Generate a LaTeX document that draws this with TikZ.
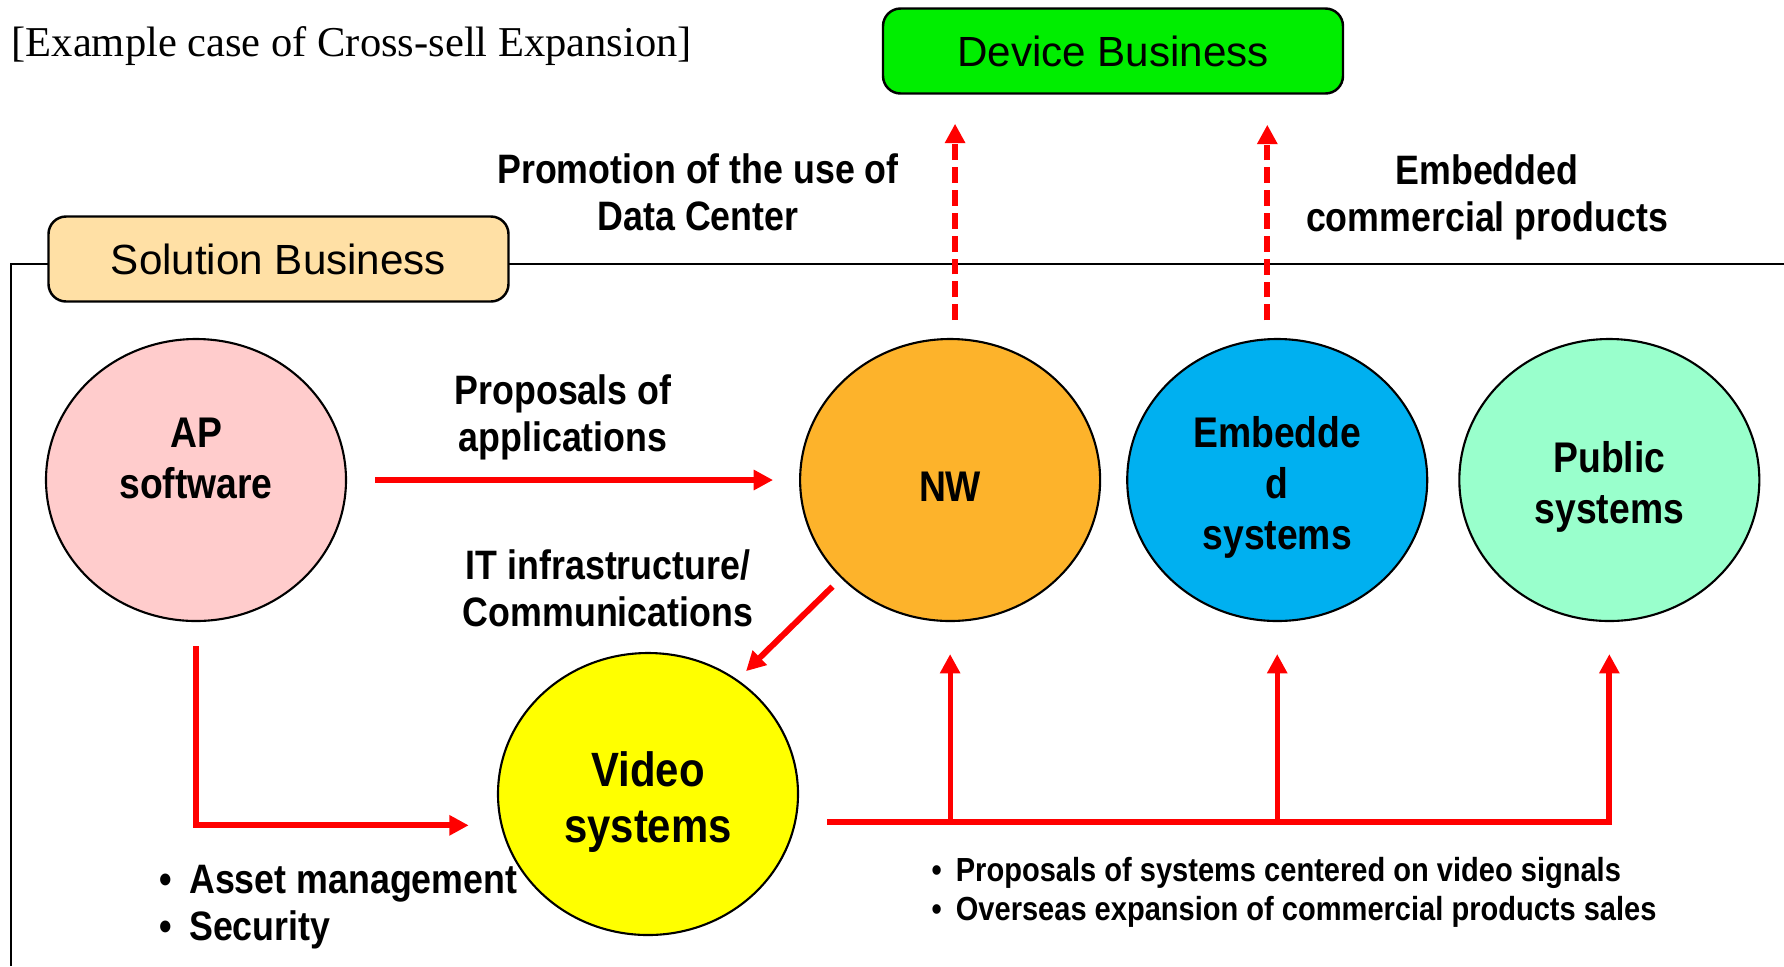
\documentclass[tikz,border=0pt]{standalone}
\usepackage{fontspec}
\setmainfont{Liberation Serif}
\newfontfamily\boxfont{Liberation Sans}
\newfontfamily\lblfont[FakeStretch=0.87]{Liberation Sans}
\usetikzlibrary{shapes.geometric,arrows.meta,positioning}

\definecolor{devgreen}{HTML}{00EE00}
\definecolor{solpeach}{HTML}{FFE0A5}
\definecolor{appink}{HTML}{FFCCCC}
\definecolor{nworange}{HTML}{FDB32B}
\definecolor{embblue}{HTML}{00B0F0}
\definecolor{pubmint}{HTML}{99FFCC}
\definecolor{vidyellow}{HTML}{FFFF00}

\tikzset{
  bizbox/.style={draw, line width=0.7pt, rounded corners=5pt, minimum width=4.6cm,
    minimum height=0.85cm, font=\boxfont\fontsize{12}{14}\selectfont},
  area/.style={ellipse, draw, line width=0.6pt, minimum width=3cm, minimum height=2.82cm,
    inner sep=0pt},
  areatext/.style={align=center, inner sep=0pt, yshift=-0.07cm,
    font=\lblfont\bfseries\fontsize{12.2}{14.5}\selectfont},
  note/.style={align=center, inner sep=0pt, font=\lblfont\bfseries\fontsize{11.7}{13.4}\selectfont},
  flow/.style={draw=red, line width=1.7pt, -{Triangle[length=5.5pt,width=5.5pt]}},
  upflow/.style={flow, line width=1.45pt},
  dashflow/.style={flow, line width=1.8pt, dash pattern=on 4.5pt off 2pt},
}

\begin{document}
\begin{tikzpicture}
    \useasboundingbox (0,0) rectangle (17.84,-9.66);

    % heading
    \node[anchor=west, inner sep=0pt, font=\fontsize{12.1}{14}\selectfont] (title) at (0.11,-0.46)
        {[Example case of Cross-sell Expansion]};

    % solution area frame
    \draw[line width=0.6pt] (0.11,-9.66) |- (17.84,-2.64);

    % businesses
    \node[bizbox, fill=devgreen] (device) at (11.13,-0.51) {Device Business};
    \node[bizbox, fill=solpeach] (solution) at (2.785,-2.59) {Solution Business};

    % areas
    \node[area, fill=appink, label={[areatext, yshift=0.29cm]center:AP\\software}] (ap) at (1.96,-4.80) {};
    \node[area, fill=nworange, right=4.52cm of ap, label={[areatext]center:NW}] (nw) {};
    \node[area, fill=embblue, right=0.25cm of nw, label={[areatext]center:Embedde\\d\\systems}] (emb) {};
    \node[area, fill=pubmint, right=0.30cm of emb, label={[areatext]center:Public\\systems}] (pub) {};
    \node[area, fill=vidyellow, label={[areatext, yshift=-0.01cm, font=\lblfont\bfseries\fontsize{13.7}{15.9}\selectfont]center:Video\\systems}] (video) at (6.48,-7.94) {};

    % arrows inside the solution business
    \draw[flow, shorten <=0.28cm, shorten >=0.26cm] (ap) -- (nw)
        node[midway, above=0.17cm, xshift=-0.1cm, note] (propapp) {Proposals of\\applications};
    \draw[flow, shorten <=0.12cm, shorten >=0.12cm] (nw.222) -- (video.52);
    \node[note] (itcomm) at (6.08,-5.88) {IT infrastructure/\\Communications};
    \draw[flow, shorten <=0.24cm, shorten >=0.32cm] (ap.south) |- (video.192);

    % video systems feed the other areas
    \coordinate (bus) at (0,-8.22);
    \draw[flow, shorten <=0.28cm, shorten >=0.32cm] (video.east |- bus) -| (pub.south);
    \draw[upflow, shorten >=0.32cm] (nw.south |- bus) -- (nw.south);
    \draw[upflow, shorten >=0.32cm] (emb.south |- bus) -- (emb.south);

    % towards the device business
    \draw[dashflow, shorten <=0.18cm, shorten >=0.29cm] (nw.88) -- (nw.88 |- device.south);
    \draw[dashflow, shorten <=0.18cm, shorten >=0.30cm] (emb.94) -- (emb.94 |- device.south);
    \node[note] (promo) at (6.98,-1.92) {Promotion of the use of\\Data Center};
    \node[note] (embprod) at (14.87,-1.97) {Embedded\\commercial products};

    % notes
    \node[note, align=left, anchor=west] (assets) at (1.59,-9.075)
        {•\hspace{0.17cm}Asset management\\•\hspace{0.17cm}Security};
    \node[note, align=left, anchor=west, font=\lblfont\bfseries\fontsize{9.5}{11.1}\selectfont] (videonotes) at (9.31,-8.92)
        {•\hspace{0.14cm}Proposals of systems centered on video signals\\•\hspace{0.14cm}Overseas expansion of commercial products sales};
\end{tikzpicture}
\end{document}
